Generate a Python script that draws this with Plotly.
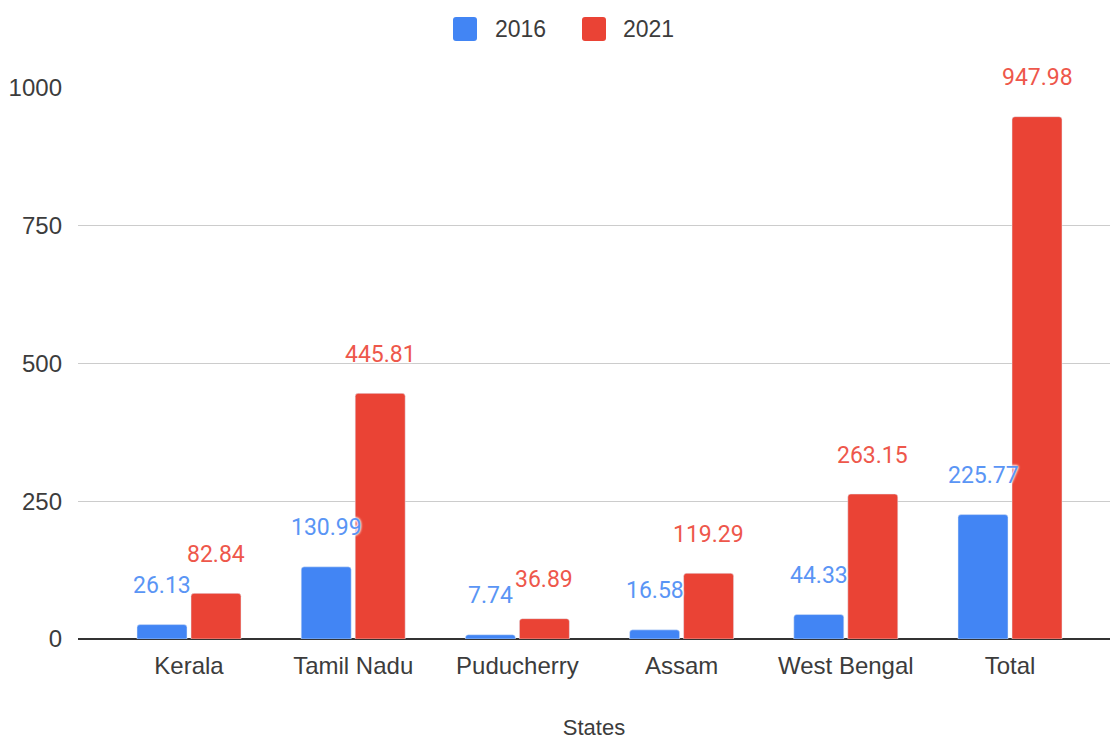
import plotly.graph_objects as go

states = ["Kerala", "Tamil Nadu", "Puducherry", "Assam", "West Bengal", "Total"]
v2016 = [26.13, 130.99, 7.74, 16.58, 44.33, 225.77]
v2021 = [82.84, 445.81, 36.89, 119.29, 263.15, 947.98]
series_names = ["2016", "2021"]
y_ticks = [0, 250, 500, 750, 1000]

BLUE = "#4285F4"
RED = "#EA4335"
BLUE_LBL = "#5a95f5"
RED_LBL = "#ee574b"
AX_FONT = "Liberation Sans, Arial, sans-serif"
LBL_FONT = "Roboto, sans-serif"

W, H = 1110, 740
ML, MR, MT, MB = 78, 0, 88, 101
PW = W - ML - MR
PH = H - MT - MB

bw = 0.3045
fig = go.Figure()
fig.add_trace(go.Bar(x=states, y=v2016, name=series_names[0], marker=dict(color=BLUE, cornerradius=3),
                     width=bw, offset=-0.3167, showlegend=False, hoverinfo="x+y"))
fig.add_trace(go.Bar(x=states, y=v2021, name=series_names[1], marker=dict(color=RED, cornerradius=3),
                     width=bw, offset=0.0122, showlegend=False, hoverinfo="x+y"))

annotations = []
halo = "0 0 3px white, 0 0 3px white, 0 0 2px white"
for vals, col, xs in [(v2016, BLUE_LBL, -27), (v2021, RED_LBL, 27)]:
    for s, v in zip(states, vals):
        annotations.append(dict(x=s, y=v, xref="x", yref="y", text=f"{v:.2f}", showarrow=False,
                                xshift=xs, yshift=39, yanchor="middle", xanchor="center",
                                font=dict(family=LBL_FONT, size=23, color=col, shadow=halo)))

# legend (manual, large rounded squares)
def px_x(p):
    return (p - ML) / PW

def px_y(p):
    return (H - MB - p) / PH

shapes = []
r = 3
sq = 24
rpath = (f"M{r},0 H{sq-r} Q{sq},0 {sq},{r} V{sq-r} Q{sq},{sq} {sq-r},{sq} H{r} Q0,{sq} 0,{sq-r} V{r} Q0,0 {r},0 Z")
for name, col, sx, tx in [(series_names[0], BLUE, 453, 493), (series_names[1], RED, 582, 621)]:
    shapes.append(dict(type="path", xref="paper", yref="paper", xsizemode="pixel", ysizemode="pixel",
                       xanchor=px_x(sx), yanchor=px_y(41), path=rpath, fillcolor=col, line=dict(width=0)))
    annotations.append(dict(x=px_x(tx), y=px_y(29), xref="paper", yref="paper", text=name, showarrow=False,
                            xanchor="left", yanchor="middle",
                            font=dict(family=AX_FONT, size=23, color="#3c3c3c")))

fig.update_layout(
    width=W, height=H,
    margin=dict(l=ML, r=MR, t=MT, b=MB, pad=0),
    paper_bgcolor="white", plot_bgcolor="white",
    barmode="overlay",
    showlegend=False,
    annotations=annotations,
    shapes=shapes,
    xaxis=dict(type="category", categoryorder="array", categoryarray=states,
               range=[-0.676, 5.609], showgrid=False, zeroline=False, showline=False,
               ticks="", ticklabelstandoff=10,
               tickfont=dict(family=AX_FONT, size=24, color="#3c3c3c"),
               title=dict(text="States", font=dict(family=AX_FONT, size=22, color="#3c3c3c"), standoff=42)),
    yaxis=dict(range=[0, 1000], tickvals=y_ticks, ticktext=[str(t) for t in y_ticks],
               showgrid=True, gridcolor="#cccccc", gridwidth=1.3,
               zeroline=True, zerolinecolor="#333333", zerolinewidth=2,
               showline=False, ticks="", ticklabelstandoff=15,
               tickfont=dict(family=AX_FONT, size=24, color="#3c3c3c")),
)

fig.write_html("out.html", config={"displayModeBar": False},
               post_script="document.body.style.margin='0';document.body.style.overflow='hidden';")
